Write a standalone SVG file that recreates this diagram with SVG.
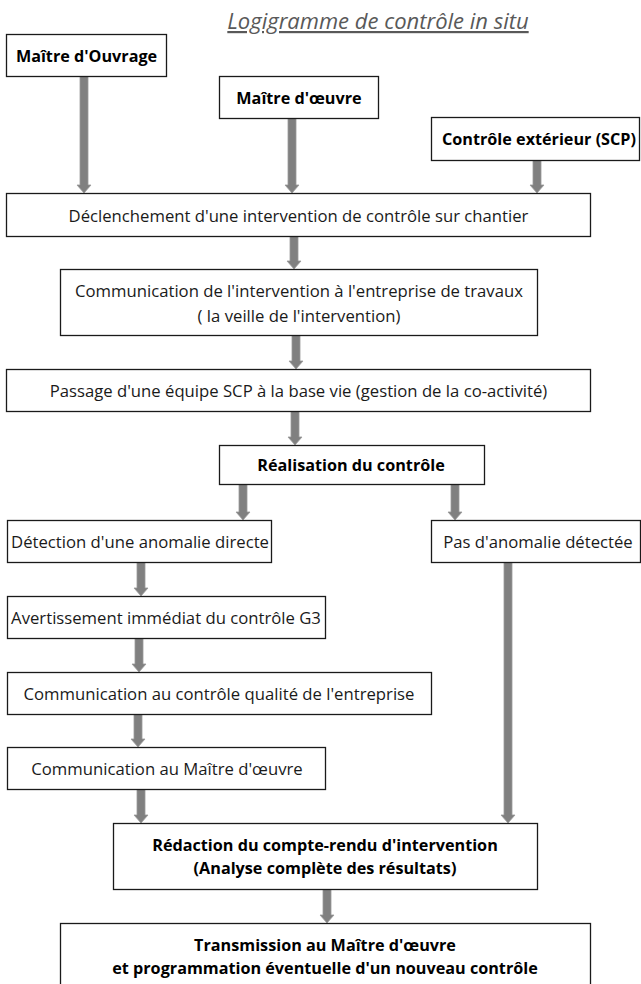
<svg xmlns="http://www.w3.org/2000/svg" width="641" height="984" viewBox="0 0 641 984">
<style>
.bx{fill:#fff;stroke:#1a1a1a;stroke-width:1.3}
.t{font-family:"Open Sans","Noto Sans","Liberation Sans",sans-serif;font-size:16.7px;fill:#1a1a1a;text-anchor:middle;dominant-baseline:central}
.b{font-weight:bold;fill:#000;font-size:16.2px}
.arr{fill:#808080;stroke:#9a9a9a;stroke-width:0.8}
.title{font-family:"Open Sans","Noto Sans","Liberation Sans",sans-serif;font-size:22px;font-style:italic;fill:#595959;text-anchor:middle;text-decoration:underline}
</style>
<rect width="641" height="984" fill="#fff"/>
<text class="title" x="378" y="29">Logigramme de contrôle in situ</text>
<g id="connectors">
<path class="arr" d="M80,76 H88 V185 H91 L84,193 L77,185 H80 Z"/>
<path class="arr" d="M288,118 H296 V185 H299 L292,193 L285,185 H288 Z"/>
<path class="arr" d="M533,160 H541 V185 H544 L537,193 L530,185 H533 Z"/>
<path class="arr" d="M290,236 H298 V261 H301 L294,269 L287,261 H290 Z"/>
<path class="arr" d="M292,335 H300 V361 H303 L296,369 L289,361 H292 Z"/>
<path class="arr" d="M291,411 H299 V437 H302 L295,445 L288,437 H291 Z"/>
<path class="arr" d="M239,484 H247 V512 H250 L243,520 L236,512 H239 Z"/>
<path class="arr" d="M451,484 H459 V512 H462 L455,520 L448,512 H451 Z"/>
<path class="arr" d="M137,562 H145 V588 H148 L141,596 L134,588 H137 Z"/>
<path class="arr" d="M135,638 H143 V664 H146 L139,672 L132,664 H135 Z"/>
<path class="arr" d="M134,714 H142 V739 H145 L138,747 L131,739 H134 Z"/>
<path class="arr" d="M137,789 H145 V815 H148 L141,823 L134,815 H137 Z"/>
<path class="arr" d="M504,562 H512 V815 H515 L508,823 L501,815 H504 Z"/>
<path class="arr" d="M323,889 H331 V915 H334 L327,923 L320,915 H323 Z"/>
</g>
<g id="n-maitre-ouvrage"><rect class="bx" x="6.5" y="34.5" width="160" height="42"/><text class="t b" x="86.5" y="55.5">Maître d'Ouvrage</text></g>
<g id="n-maitre-oeuvre"><rect class="bx" x="219.5" y="76.5" width="159" height="42"/><text class="t b" x="299" y="97.5">Maître d'œuvre</text></g>
<g id="n-controle-ext"><rect class="bx" x="431.5" y="117.5" width="208" height="43"/><text class="t b" x="539" y="139">Contrôle extérieur (SCP)</text></g>
<g id="n-declenchement"><rect class="bx" x="6.5" y="193.5" width="584" height="43"/><text class="t" x="298.5" y="215">Déclenchement d'une intervention de contrôle sur chantier</text></g>
<g id="n-communication"><rect class="bx" x="60.5" y="269.5" width="477" height="66"/><text class="t" x="299" y="290">Communication de l'intervention à l'entreprise de travaux</text><text class="t" x="299" y="315">( la veille de l'intervention)</text></g>
<g id="n-passage"><rect class="bx" x="6.5" y="369.5" width="584" height="42"/><text class="t" x="298.5" y="390.5">Passage d'une équipe SCP à la base vie (gestion de la co-activité)</text></g>
<g id="n-realisation"><rect class="bx" x="219.5" y="445.5" width="265" height="39"/><text class="t b" x="351" y="465">Réalisation du contrôle</text></g>
<g id="n-detection"><rect class="bx" x="7.5" y="520.5" width="264" height="42"/><text class="t" x="140" y="541.5">Détection d'une anomalie directe</text></g>
<g id="n-pas-anomalie"><rect class="bx" x="431.5" y="520.5" width="209" height="42"/><text class="t" x="538" y="541.5">Pas d'anomalie détectée</text></g>
<g id="n-avertissement"><rect class="bx" x="7.5" y="596.5" width="318" height="42"/><text class="t" x="166" y="617.5">Avertissement immédiat du contrôle G3</text></g>
<g id="n-comm-qualite"><rect class="bx" x="7.5" y="672.5" width="424" height="42"/><text class="t" x="219" y="693.5">Communication au contrôle qualité de l'entreprise</text></g>
<g id="n-comm-moe"><rect class="bx" x="7.5" y="747.5" width="318" height="42"/><text class="t" x="167" y="768.5">Communication au Maître d'œuvre</text></g>
<g id="n-redaction"><rect class="bx" x="113.5" y="823.5" width="424" height="66"/><text class="t b" x="325" y="845">Rédaction du compte-rendu d'intervention</text><text class="t b" x="325" y="868">(Analyse complète des résultats)</text></g>
<g id="n-transmission"><rect class="bx" x="60.5" y="923.5" width="530" height="80"/><text class="t b" x="325" y="945">Transmission au Maître d'œuvre</text><text class="t b" x="325" y="968">et programmation éventuelle d'un nouveau contrôle</text></g>
</svg>
